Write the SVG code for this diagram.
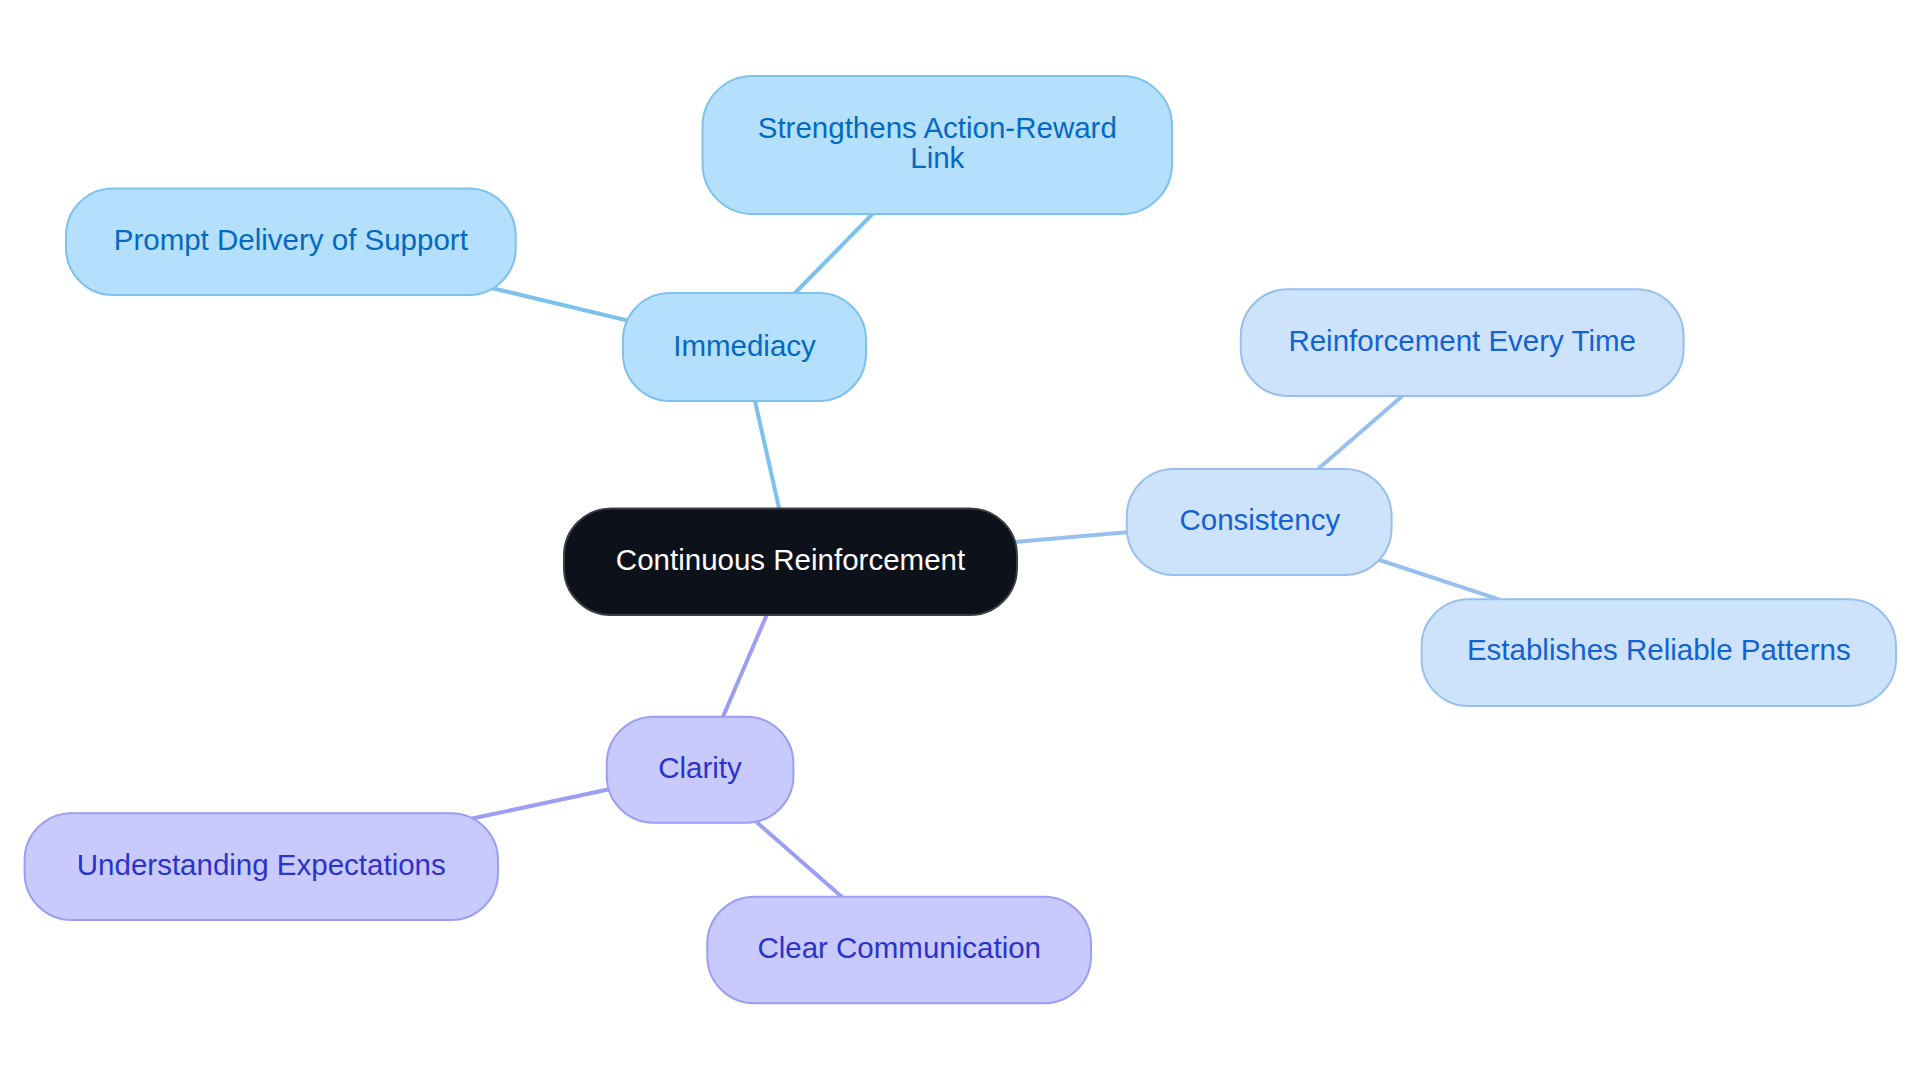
<svg xmlns="http://www.w3.org/2000/svg" width="1920" height="1083" viewBox="0 0 1920 1083">
<style>
text{font-family:"Liberation Sans",Arial,sans-serif;font-size:29.5px;text-anchor:middle}
.edge{fill:none;stroke-width:4;stroke-linecap:round}
.e-imm{stroke:#7DC1EE}
.e-con{stroke:#98C0EE}
.e-cla{stroke:#9B9EF2}
.n-imm rect{fill:#B4E0FE;stroke:#7DC1EE;stroke-width:2}
.n-imm text{fill:#0469C2}
.n-con rect{fill:#CDE3FB;stroke:#98C0EE;stroke-width:2}
.n-con text{fill:#1262D4}
.n-cla rect{fill:#C8CAFD;stroke:#9B9EF2;stroke-width:2}
.n-cla text{fill:#2B33CC}
.n-root rect{fill:#0C111A;stroke:#3A3F47;stroke-width:2}
.n-root text{fill:#FFFFFF}
</style>
<rect x="0" y="0" width="1920" height="1083" fill="#FFFFFF"/>
<g id="connectors">
<line class="edge e-imm" x1="779" y1="508" x2="755" y2="401"/>
<line class="edge e-imm" x1="795" y1="293" x2="872.5" y2="214"/>
<line class="edge e-imm" x1="625.5" y1="320" x2="491.6" y2="288"/>
<line class="edge e-con" x1="1017" y1="541.7" x2="1126.8" y2="532.3"/>
<line class="edge e-con" x1="1318.9" y1="468.3" x2="1402.3" y2="396"/>
<line class="edge e-con" x1="1379.4" y1="560" x2="1499" y2="599.3"/>
<line class="edge e-cla" x1="766.7" y1="615" x2="723.3" y2="716"/>
<line class="edge e-cla" x1="609.3" y1="789.3" x2="473.3" y2="818.3"/>
<line class="edge e-cla" x1="757.3" y1="822.7" x2="841.7" y2="896.7"/>
</g>
<g id="node-root" class="n-root">
<rect x="564" y="508.5" width="453" height="106.5" rx="47"/>
<text x="790.5" y="570">Continuous Reinforcement</text>
</g>
<g id="node-immediacy" class="n-imm">
<rect x="623" y="293" width="243" height="108" rx="47"/>
<text x="744.5" y="356">Immediacy</text>
</g>
<g id="node-strengthens" class="n-imm">
<rect x="702.6" y="76" width="469.4" height="138" rx="50"/>
<text x="937.3" y="138">Strengthens Action-Reward</text>
<text x="937.3" y="168">Link</text>
</g>
<g id="node-prompt" class="n-imm">
<rect x="66" y="188.5" width="449.7" height="106.5" rx="47"/>
<text x="290.8" y="250">Prompt Delivery of Support</text>
</g>
<g id="node-consistency" class="n-con">
<rect x="1126.8" y="469" width="264.8" height="106" rx="47"/>
<text x="1259.8" y="530">Consistency</text>
</g>
<g id="node-every-time" class="n-con">
<rect x="1240.8" y="289.3" width="442.8" height="106.7" rx="47"/>
<text x="1462.2" y="351">Reinforcement Every Time</text>
</g>
<g id="node-patterns" class="n-con">
<rect x="1421.6" y="599.3" width="474.4" height="106.7" rx="47"/>
<text x="1658.8" y="660">Establishes Reliable Patterns</text>
</g>
<g id="node-clarity" class="n-cla">
<rect x="606.7" y="716.7" width="186.7" height="106" rx="47"/>
<text x="700" y="778.3">Clarity</text>
</g>
<g id="node-understanding" class="n-cla">
<rect x="24.6" y="813.3" width="473.4" height="106.7" rx="47"/>
<text x="261.3" y="875">Understanding Expectations</text>
</g>
<g id="node-clear" class="n-cla">
<rect x="707.3" y="896.7" width="383.7" height="106.6" rx="47"/>
<text x="899.2" y="958.3">Clear Communication</text>
</g>
</svg>
